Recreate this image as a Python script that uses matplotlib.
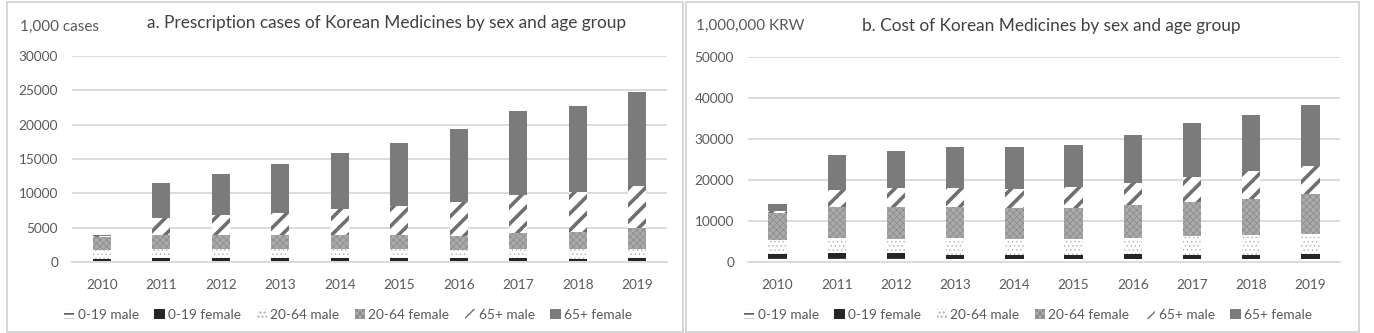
import numpy as np
import matplotlib
matplotlib.use('Agg')
import matplotlib.pyplot as plt
from matplotlib.patches import Rectangle

plt.rcParams['font.family'] = ['Lato', 'DejaVu Sans']

years = ['2010', '2011', '2012', '2013', '2014', '2015', '2016', '2017', '2018', '2019']
groups = ['0-19 male', '0-19 female', '20-64 male', '20-64 female', '65+ male', '65+ female']

# a. prescription cases (1,000 cases)
cases_m019 = [150, 200, 200, 150, 150, 150, 150, 150, 100, 150]
cases_f019 = [350, 350, 350, 450, 400, 400, 400, 400, 350, 400]
cases_m2064 = [1300, 1300, 1300, 1250, 1300, 1300, 1250, 1300, 1400, 1300]
cases_f2064 = [1850, 2100, 2050, 2050, 2050, 2050, 2000, 2350, 2550, 3050]
cases_m65 = [150, 2400, 2900, 3300, 3750, 4250, 5000, 5600, 5850, 6200]
cases_f65 = [150, 5100, 6000, 7100, 8250, 9250, 10600, 12200, 12400, 13600]

# b. cost (1,000,000 KRW)
cost_m019 = [900, 900, 900, 800, 800, 800, 800, 800, 750, 850]
cost_f019 = [1100, 1200, 1200, 1000, 1000, 1000, 1050, 1000, 1000, 1150]
cost_m2064 = [3400, 3700, 3600, 4000, 3900, 3900, 4050, 4500, 4750, 4700]
cost_f2064 = [6600, 7700, 7800, 7500, 7400, 7500, 7900, 8300, 8800, 9800]
cost_m65 = [500, 4100, 4500, 4700, 4600, 5000, 5500, 6200, 6800, 6900]
cost_f65 = [1700, 8400, 9100, 10100, 10200, 10300, 11700, 13100, 13700, 14800]

styles = [
    dict(color='white', edgecolor='#3a3a3a', hatch='---', hlw=0.9),
    dict(color='#262626', edgecolor='#262626', hatch=None, hlw=1.0),
    dict(color='white', edgecolor='#b0b0b0', hatch='....', hlw=0.5),
    dict(color='#aaaaaa', edgecolor='#8a8a8a', hatch='xxxxx', hlw=0.5),
    dict(color='white', edgecolor='#6f6f6f', hatch='//', hlw=2.6),
    dict(color='#7b7b7b', edgecolor='#7b7b7b', hatch=None, hlw=1.0),
]

W, H = 1374, 333
fig = plt.figure(figsize=(W / 100, H / 100), dpi=100)
txt = '#595959'
grid = '#d9d9d9'


def px(x0, y0, w, h):
    return [x0 / W, 1 - (y0 + h) / H, w / W, h / H]


def draw(ax, series, ymax, step):
    x = np.arange(len(years))
    bottom = np.zeros(len(years))
    handles = []
    for vals, st in zip(series, styles):
        vals = np.array(vals, dtype=float)
        with plt.rc_context({'hatch.linewidth': st['hlw']}):
            bars = ax.bar(x, vals, 0.31, bottom=bottom, color=st['color'],
                          edgecolor=st['edgecolor'], hatch=st['hatch'], linewidth=0)
        for p in bars:
            if hasattr(p, 'set_hatch_linewidth'):
                p.set_hatch_linewidth(st['hlw'])
        handles.append(bars)
        bottom += vals
    ax.set_xlim(-0.5, len(years) - 0.5)
    ax.set_ylim(0, ymax)
    ax.set_yticks(np.arange(0, ymax + 1, step))
    ax.set_xticks(x)
    ax.set_xticklabels(years)
    ax.yaxis.grid(True, color=grid, lw=1.3)
    ax.set_axisbelow(True)
    for s in ['left', 'right', 'top']:
        ax.spines[s].set_visible(False)
    ax.spines['bottom'].set_color(grid)
    ax.spines['bottom'].set_linewidth(1.3)
    ax.tick_params(length=0, colors=txt, labelsize=9.8)
    ax.tick_params(axis='y', pad=10)
    ax.tick_params(axis='x', pad=12)
    return handles


ax1 = fig.add_axes(px(72, 56, 595, 206))
h1 = draw(ax1, [cases_m019, cases_f019, cases_m2064, cases_f2064, cases_m65, cases_f65], 30000, 5000)
ax2 = fig.add_axes(px(748, 56.5, 592, 205.5))
h2 = draw(ax2, [cost_m019, cost_f019, cost_m2064, cost_f2064, cost_m65, cost_f65], 50000, 10000)

fig.text(20 / W, 1 - 27 / H, '1,000 cases', color=txt, fontsize=11, va='center', ha='left')
fig.text(387 / W, 1 - 23 / H, 'a. Prescription cases of Korean Medicines by sex and age group',
         color='#404040', fontsize=12.4, va='center', ha='center')
fig.text(696 / W, 1 - 26 / H, '1,000,000 KRW', color=txt, fontsize=11, va='center', ha='left')
fig.text(1051 / W, 1 - 26 / H, 'b. Cost of Korean Medicines by sex and age group',
         color='#404040', fontsize=12.4, va='center', ha='center')

for hs, cx in [(h1, 348), (h2, 1028)]:
    leg = fig.legend(hs, groups, loc='center', bbox_to_anchor=(cx / W, 18 / H), ncol=6,
                     frameon=False, fontsize=9.8, handlelength=0.75, handleheight=0.75,
                     handletextpad=0.25, columnspacing=1.15)
    for t in leg.get_texts():
        t.set_color(txt)

for x0, x1 in [(7, 683), (686, 1359)]:
    fig.patches.append(Rectangle((x0 / W, 1 - 332 / H), (x1 - x0) / W, 330 / H,
                                 transform=fig.transFigure, fill=False,
                                 edgecolor='#d0d0d0', lw=1.2))

fig.savefig('out.png', dpi=100)
